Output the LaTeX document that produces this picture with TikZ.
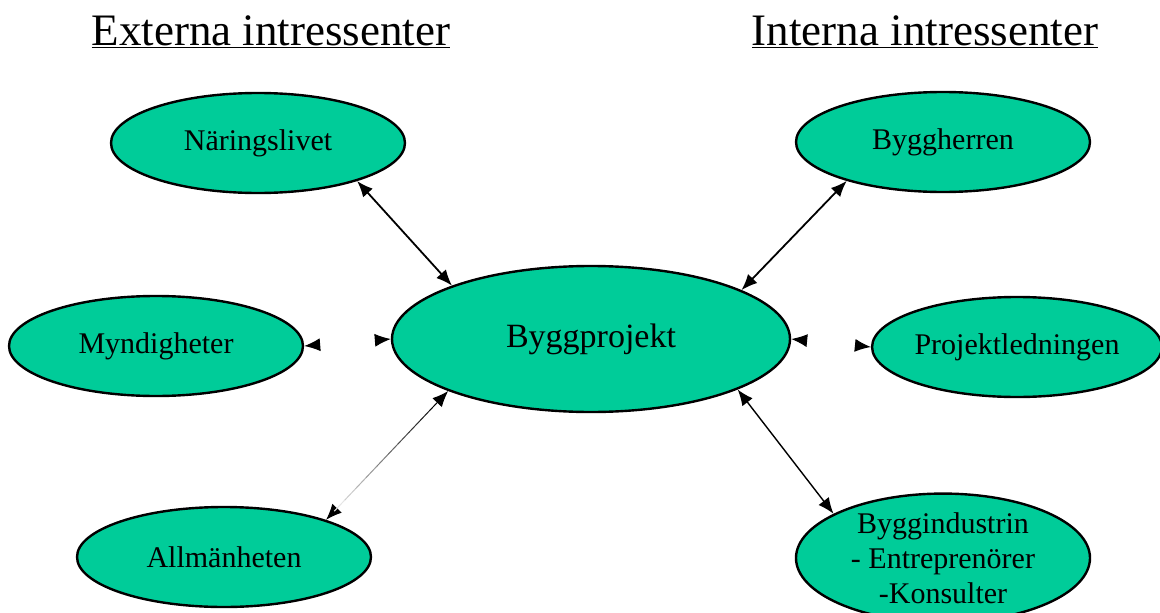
\documentclass[tikz,border=0pt]{standalone}
\usepackage{fontspec}
\setmainfont{Liberation Serif}
\usetikzlibrary{shapes.geometric,arrows.meta,calc}
\definecolor{stakefill}{RGB}{0,204,153}
\tikzset{
  stake/.style={ellipse, draw=black, line width=2.4pt, fill=stakefill, inner sep=0pt,
    minimum width=294pt, minimum height=100pt, font=\fontsize{30}{35}\selectfont, align=center},
  link/.style={line width=1.8pt, {Latex[length=16pt,width=13pt]}-{Latex[length=16pt,width=13pt]}},
  ghostlink/.style={draw=white, line width=1pt,
    {Latex[length=16pt,width=13pt,color=black]}-{Latex[length=16pt,width=13pt,color=black]}},
  heading/.style={font=\fontsize{45}{50}\selectfont, inner sep=0pt}
}
\begin{document}
\begin{tikzpicture}[x=1pt,y=-1pt]
\useasboundingbox (0,0) rectangle (1160,613);

% headings
\node[heading] (ext) at (271,32) {\underline{Externa intressenter}};
\node[heading] (int) at (925,32) {\underline{Interna intressenter}};

% central project
\node[stake, minimum width=398pt, minimum height=146pt, font=\fontsize{34}{38}\selectfont] (bp) at (591,339) {Byggprojekt};

% external stakeholders
\node[stake] (nar) at (258,143) {Näringslivet};
\node[stake] (myn) at (156,346) {Myndigheter};
\node[stake] (alm) at (224,557) {Allmänheten};

% internal stakeholders
\node[stake] (byh) at (943,142) {Byggherren};
\node[stake, minimum width=283pt] (pl) at (1017,347) {Projektledningen};
\node[stake] (byi) at (943,558) {Byggindustrin\\- Entreprenörer\\-Konsulter};

% connectors
\draw[link] (nar.-21) -- (bp.159.5);
\draw[link] (byh.202) -- (bp.18.3);
\draw[link, line width=1.4pt] (byi.158.8) -- (bp.-19.7);
\draw[ghostlink] (myn.east) -- (bp.west);
\draw[ghostlink] (bp.east) -- (pl.west);

% connector towards Allmänheten, fading out near its lower end
\draw[ghostlink] (alm.20) -- (bp.200);
\coordinate (fa) at ($(alm.20)!12pt!(bp.200)$);
\coordinate (fb) at ($(bp.200)!12pt!(alm.20)$);
\foreach \n in {0,...,9}{
  \pgfmathsetmacro{\i}{\n/10}
  \pgfmathsetmacro{\j}{(\n+1)/10}
  \pgfmathsetmacro{\k}{10+\n*10}
  \draw[line width=1pt, draw=black!\k!white]
    ($(fa)!\i!(fb)$) -- ($(fa)!\j!(fb)$);
}
\end{tikzpicture}
\end{document}
